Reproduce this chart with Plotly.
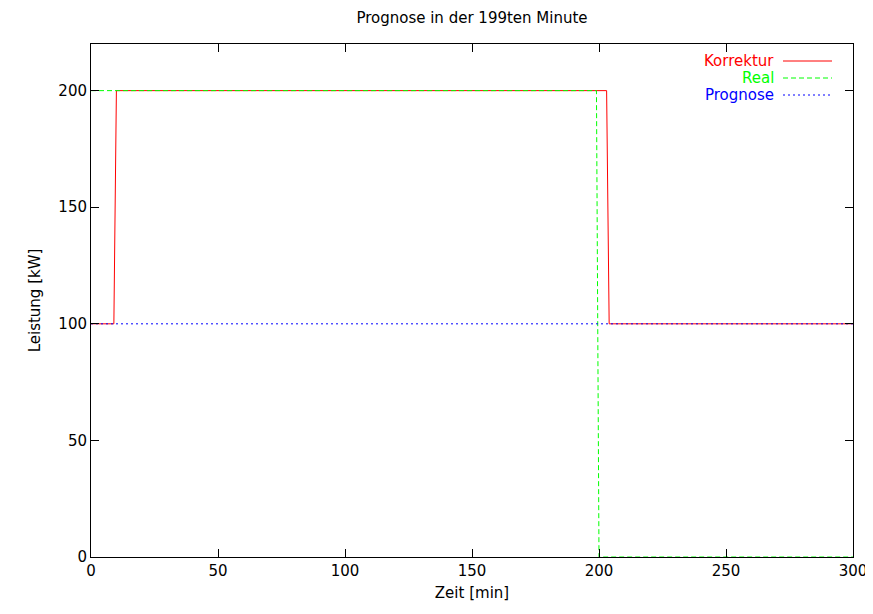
import plotly.graph_objects as go

# Data (breakpoints)
korrektur_x = [0, 9, 10, 203, 204, 300]
korrektur_y = [100, 100, 200, 200, 100, 100]
real_x = [0, 199, 200, 300]
real_y = [200, 200, 0, 0]
prognose_x = [0, 300]
prognose_y = [100, 100]

x_ticks = [0, 50, 100, 150, 200, 250, 300]
y_ticks = [0, 50, 100, 150, 200]

series = [
    ("Korrektur", korrektur_x, korrektur_y, "#ff0000", "solid"),
    ("Real", real_x, real_y, "#00ff00", "5px,3px"),
    ("Prognose", prognose_x, prognose_y, "#0000ff", "2px,3px"),
]

FONT = "DejaVu Sans, Liberation Sans, Arial, sans-serif"
FS = 15
OFF = 8  # page body margin
# target plot area in the page (px)
PL, PR, PT, PB = 91, 853, 44, 557
W, H = 873 - OFF, 614 - 2 * OFF
L, T = PL - OFF, PT - OFF
pw, ph = PR - PL, PB - PT
R, B = W - L - pw, H - T - ph

fig = go.Figure()
for name, xs, ys, col, dash in series:
    fig.add_trace(go.Scatter(x=xs, y=ys, mode="lines", name=name,
                             line=dict(color=col, width=1, dash=dash),
                             showlegend=False))

# gnuplot-style legend: right-aligned text followed by line sample
for i, (name, xs, ys, col, dash) in enumerate(series):
    py = 61 + 17 * i
    yp = (PB - py) / ph
    fig.add_annotation(xref="paper", yref="paper", x=(773 - PL) / pw, y=yp,
                       text=name, showarrow=False, xanchor="right", yanchor="middle",
                       xshift=3,
                       font=dict(color=col, size=FS, family=FONT))
    fig.add_shape(type="line", xref="paper", yref="paper",
                  x0=(783 - PL) / pw, x1=(832 - PL) / pw, y0=yp, y1=yp,
                  line=dict(color=col, width=1, dash=dash))

axis_common = dict(showline=True, linecolor="black", linewidth=1, mirror="ticks",
                   ticks="inside", ticklen=8, tickcolor="black", showgrid=False,
                   zeroline=False, ticklabeloverflow="allow",
                   tickfont=dict(size=FS, family=FONT, color="black"))

fig.update_layout(
    width=W, height=H,
    margin=dict(l=L, r=R, t=T, b=B, pad=0),
    paper_bgcolor="white", plot_bgcolor="white",
    title=dict(text="Prognose in der 199ten Minute", x=(472 - OFF) / W, xanchor="center",
               y=1 - (18 - OFF) / H, yanchor="middle", font=dict(size=FS, family=FONT, color="black")),
    xaxis=dict(range=[0, 300], tickvals=x_ticks,
               title=dict(text="Zeit [min]", font=dict(size=FS, family=FONT, color="black"), standoff=8),
               automargin=False, **axis_common),
    yaxis=dict(range=[0, 220], tickvals=y_ticks,
               title=dict(text="Leistung [kW]", font=dict(size=FS, family=FONT, color="black"), standoff=14),
               automargin=False, **axis_common),
)

fig.write_html("out.html")
